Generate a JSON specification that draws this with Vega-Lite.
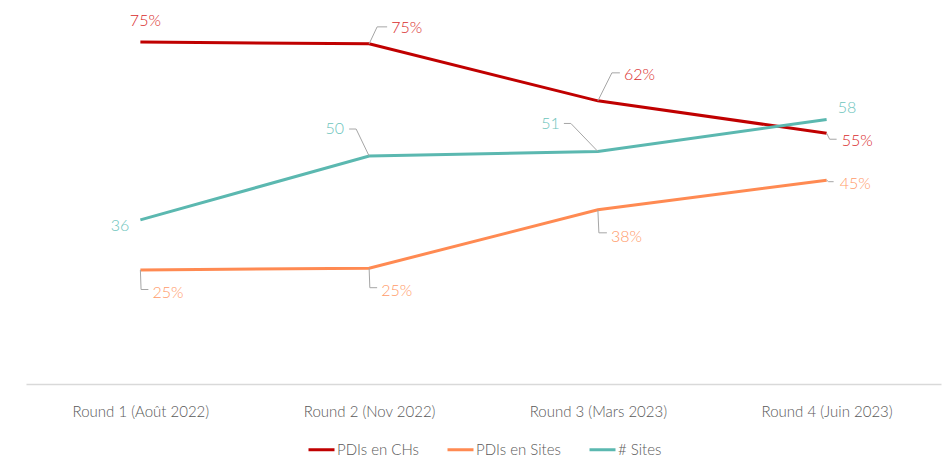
{
  "$schema": "https://vega.github.io/schema/vega-lite/v6.json",
  "width": 915,
  "height": 383,
  "autosize": "none",
  "padding": {"left": 26, "top": 1, "right": 10, "bottom": 74},
  "background": "white",
  "config": {"view": {"stroke": null}, "font": "Lato", "text": {"fontWeight": 300}},
  "data": {"values": [
    {"id": "c1", "round": "Round 1 (Août 2022)", "series": "PDIs en CHs", "value": 75.0, "label": "75%"},
    {"id": "c2", "round": "Round 2 (Nov 2022)", "series": "PDIs en CHs", "value": 74.6, "label": "75%"},
    {"id": "c3", "round": "Round 3 (Mars 2023)", "series": "PDIs en CHs", "value": 62.1, "label": "62%"},
    {"id": "c4", "round": "Round 4 (Juin 2023)", "series": "PDIs en CHs", "value": 55.0, "label": "55%"},
    {"id": "s1", "round": "Round 1 (Août 2022)", "series": "PDIs en Sites", "value": 25.0, "label": "25%"},
    {"id": "s2", "round": "Round 2 (Nov 2022)", "series": "PDIs en Sites", "value": 25.4, "label": "25%"},
    {"id": "s3", "round": "Round 3 (Mars 2023)", "series": "PDIs en Sites", "value": 38.2, "label": "38%"},
    {"id": "s4", "round": "Round 4 (Juin 2023)", "series": "PDIs en Sites", "value": 44.7, "label": "45%"},
    {"id": "n1", "round": "Round 1 (Août 2022)", "series": "# Sites", "value": 36, "label": "36"},
    {"id": "n2", "round": "Round 2 (Nov 2022)", "series": "# Sites", "value": 50, "label": "50"},
    {"id": "n3", "round": "Round 3 (Mars 2023)", "series": "# Sites", "value": 51, "label": "51"},
    {"id": "n4", "round": "Round 4 (Juin 2023)", "series": "# Sites", "value": 58, "label": "58"}
  ]},
  "encoding": {
    "x": {"field": "round", "type": "nominal", "sort": null,
      "scale": {"type": "point", "padding": 0.5},
      "axis": {"title": null, "labelAngle": 0, "ticks": false, "domainColor": "#D9D9D9", "domainWidth": 1.5,
        "labelColor": "#595959", "labelFontSize": 15, "labelFontWeight": 300, "labelPadding": 20, "grid": false}},
    "y": {"field": "value", "type": "quantitative", "scale": {"domain": [0, 84], "nice": false}, "axis": null}
  },
  "layer": [
    {"mark": {"type": "line", "strokeWidth": 3},
     "encoding": {"color": {"field": "series", "type": "nominal",
       "scale": {"domain": ["PDIs en CHs", "PDIs en Sites", "# Sites"], "range": ["#C00000", "#FF8A52", "#5BB8B0"]},
       "legend": {"title": null, "orient": "none", "legendX": 281, "legendY": 434, "direction": "horizontal", "symbolType": "stroke", "symbolSize": 676,
         "symbolStrokeWidth": 3, "labelFontSize": 15, "labelFontWeight": 300, "labelColor": "#595959", "labelOffset": 1, "columnPadding": 22}}}},
    {"transform": [{"filter": "datum.id=='c2'"}], "mark": {"type": "rule", "color": "#A6A6A6", "strokeWidth": 1, "x2Offset": 8, "y2Offset": -17}, "encoding": {"x2": {"field": "round"}, "y2": {"field": "value"}}},
    {"transform": [{"filter": "datum.id=='c2'"}], "mark": {"type": "rule", "color": "#A6A6A6", "strokeWidth": 1, "xOffset": 8, "yOffset": -17, "x2Offset": 18, "y2Offset": -17}, "encoding": {"x2": {"field": "round"}, "y2": {"field": "value"}}},
    {"transform": [{"filter": "datum.id=='c3'"}], "mark": {"type": "rule", "color": "#A6A6A6", "strokeWidth": 1, "x2Offset": 14, "y2Offset": -28}, "encoding": {"x2": {"field": "round"}, "y2": {"field": "value"}}},
    {"transform": [{"filter": "datum.id=='c3'"}], "mark": {"type": "rule", "color": "#A6A6A6", "strokeWidth": 1, "xOffset": 14, "yOffset": -28, "x2Offset": 22, "y2Offset": -28}, "encoding": {"x2": {"field": "round"}, "y2": {"field": "value"}}},
    {"transform": [{"filter": "datum.id=='c4'"}], "mark": {"type": "rule", "color": "#A6A6A6", "strokeWidth": 1, "x2Offset": 3, "y2Offset": 6}, "encoding": {"x2": {"field": "round"}, "y2": {"field": "value"}}},
    {"transform": [{"filter": "datum.id=='c4'"}], "mark": {"type": "rule", "color": "#A6A6A6", "strokeWidth": 1, "xOffset": 3, "yOffset": 6, "x2Offset": 10, "y2Offset": 6}, "encoding": {"x2": {"field": "round"}, "y2": {"field": "value"}}},
    {"transform": [{"filter": "datum.id=='s4'"}], "mark": {"type": "rule", "color": "#A6A6A6", "strokeWidth": 1, "x2Offset": 2, "y2Offset": 1.5}, "encoding": {"x2": {"field": "round"}, "y2": {"field": "value"}}},
    {"transform": [{"filter": "datum.id=='s4'"}], "mark": {"type": "rule", "color": "#A6A6A6", "strokeWidth": 1, "xOffset": 2, "yOffset": 1.5, "x2Offset": 7, "y2Offset": 1.5}, "encoding": {"x2": {"field": "round"}, "y2": {"field": "value"}}},
    {"transform": [{"filter": "datum.id=='s1' || datum.id=='s2'"}], "mark": {"type": "rule", "color": "#A6A6A6", "strokeWidth": 1, "x2Offset": 0.7, "y2Offset": 19.5}, "encoding": {"x2": {"field": "round"}, "y2": {"field": "value"}}},
    {"transform": [{"filter": "datum.id=='s1' || datum.id=='s2'"}], "mark": {"type": "rule", "color": "#A6A6A6", "strokeWidth": 1, "xOffset": 0.7, "yOffset": 19.5, "x2Offset": 8, "y2Offset": 19.5}, "encoding": {"x2": {"field": "round"}, "y2": {"field": "value"}}},
    {"transform": [{"filter": "datum.id=='s3'"}], "mark": {"type": "rule", "color": "#A6A6A6", "strokeWidth": 1, "x2Offset": 1, "y2Offset": 23}, "encoding": {"x2": {"field": "round"}, "y2": {"field": "value"}}},
    {"transform": [{"filter": "datum.id=='s3'"}], "mark": {"type": "rule", "color": "#A6A6A6", "strokeWidth": 1, "xOffset": 1, "yOffset": 23, "x2Offset": 9, "y2Offset": 23}, "encoding": {"x2": {"field": "round"}, "y2": {"field": "value"}}},
    {"transform": [{"filter": "datum.id=='n2'"}], "mark": {"type": "rule", "color": "#A6A6A6", "strokeWidth": 1, "x2Offset": -13, "y2Offset": -27}, "encoding": {"x2": {"field": "round"}, "y2": {"field": "value"}}},
    {"transform": [{"filter": "datum.id=='n2'"}], "mark": {"type": "rule", "color": "#A6A6A6", "strokeWidth": 1, "xOffset": -13, "yOffset": -27, "x2Offset": -20, "y2Offset": -27}, "encoding": {"x2": {"field": "round"}, "y2": {"field": "value"}}},
    {"transform": [{"filter": "datum.id=='n3'"}], "mark": {"type": "rule", "color": "#A6A6A6", "strokeWidth": 1, "x2Offset": -27, "y2Offset": -28}, "encoding": {"x2": {"field": "round"}, "y2": {"field": "value"}}},
    {"transform": [{"filter": "datum.id=='n3'"}], "mark": {"type": "rule", "color": "#A6A6A6", "strokeWidth": 1, "xOffset": -27, "yOffset": -28, "x2Offset": -34, "y2Offset": -28}, "encoding": {"x2": {"field": "round"}, "y2": {"field": "value"}}},
    {"transform": [{"filter": "datum.id=='c1'"}], "mark": {"type": "text", "color": "#D92B2B", "fontSize": 16, "align": "center", "dx": 5, "dy": -21}, "encoding": {"text": {"field": "label"}}},
    {"transform": [{"filter": "datum.id=='c2'"}], "mark": {"type": "text", "color": "#D92B2B", "fontSize": 16, "align": "left", "dx": 22, "dy": -16}, "encoding": {"text": {"field": "label"}}},
    {"transform": [{"filter": "datum.id=='c3'"}], "mark": {"type": "text", "color": "#D92B2B", "fontSize": 16, "align": "left", "dx": 26, "dy": -26}, "encoding": {"text": {"field": "label"}}},
    {"transform": [{"filter": "datum.id=='c4'"}], "mark": {"type": "text", "color": "#D92B2B", "fontSize": 16, "align": "left", "dx": 15, "dy": 8}, "encoding": {"text": {"field": "label"}}},
    {"transform": [{"filter": "datum.id=='s1' || datum.id=='s2'"}], "mark": {"type": "text", "color": "#FF9A68", "fontSize": 16, "align": "left", "dx": 12, "dy": 23}, "encoding": {"text": {"field": "label"}}},
    {"transform": [{"filter": "datum.id=='s3'"}], "mark": {"type": "text", "color": "#FF9A68", "fontSize": 16, "align": "left", "dx": 13, "dy": 27}, "encoding": {"text": {"field": "label"}}},
    {"transform": [{"filter": "datum.id=='s4'"}], "mark": {"type": "text", "color": "#FF9A68", "fontSize": 16, "align": "left", "dx": 13, "dy": 4}, "encoding": {"text": {"field": "label"}}},
    {"transform": [{"filter": "datum.id=='n1'"}], "mark": {"type": "text", "color": "#6CC4BC", "fontSize": 16, "align": "right", "dx": -11, "dy": 6}, "encoding": {"text": {"field": "label"}}},
    {"transform": [{"filter": "datum.id=='n2'"}], "mark": {"type": "text", "color": "#6CC4BC", "fontSize": 16, "align": "right", "dx": -25, "dy": -27}, "encoding": {"text": {"field": "label"}}},
    {"transform": [{"filter": "datum.id=='n3'"}], "mark": {"type": "text", "color": "#6CC4BC", "fontSize": 16, "align": "right", "dx": -38, "dy": -27}, "encoding": {"text": {"field": "label"}}},
    {"transform": [{"filter": "datum.id=='n4'"}], "mark": {"type": "text", "color": "#6CC4BC", "fontSize": 16, "align": "left", "dx": 11, "dy": -12}, "encoding": {"text": {"field": "label"}}}
  ]
}
